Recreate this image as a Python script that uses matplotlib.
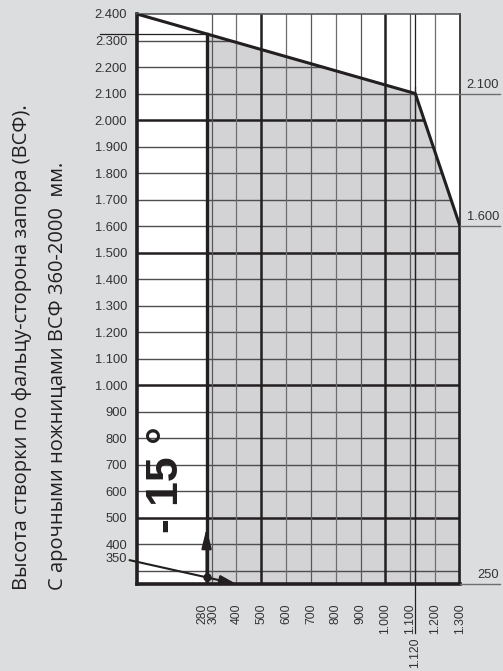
import numpy as np
import matplotlib
matplotlib.use('Agg')
import matplotlib.pyplot as plt
from matplotlib.patches import Polygon
from matplotlib.transforms import blended_transform_factory, ScaledTranslation

# chart data
y_ticks = [2400, 2300, 2200, 2100, 2000, 1900, 1800, 1700, 1600, 1500, 1400, 1300,
           1200, 1100, 1000, 900, 800, 700, 600, 500, 400, 350]
x_ticks = [280, 300, 400, 500, 600, 700, 800, 900, 1000, 1100, 1200, 1300]
h_grid = [2300, 2200, 2100, 2000, 1900, 1800, 1700, 1600, 1500, 1400, 1300, 1200,
          1100, 1000, 900, 800, 700, 600, 500, 400, 300]
v_grid = [300, 400, 500, 600, 700, 800, 900, 1000, 1100, 1120, 1200]
bold_h = [2000, 1500, 1000, 500]
bold_v = [500, 1000]
limit_x = [0, 1120, 1300]
limit_y = [2400, 2100, 1600]
min_width = 280
min_height = 250
corner_width = 1120
side_labels = [2100, 1600, 250]
swing_x = [-30, 400]
swing_y = [340, 250]
arrow_top = 460

BG = '#dcdddf'
SHADE = '#d3d3d5'
DARK = '#231f20'
TXT = '#333333'
FONT = 'Liberation Sans'
FS = 8.8

def fmt(v):
    return f'{v:,}'.replace(',', '.')

fig = plt.figure(figsize=(5.03, 6.71), dpi=100, facecolor=BG)
ax = fig.add_axes([137 / 503, 1 - 584 / 671, 323 / 503, 570 / 671])
ax.set_facecolor('white')
ax.set_xlim(0, 1300)
ax.set_ylim(min_height, 2400)

# area under the limit curve (clip for the horizontal grid)
top_y = np.interp(min_width, limit_x, limit_y)
area = Polygon(list(zip(limit_x, limit_y)) + [(1300, min_height), (0, min_height)],
               closed=True, transform=ax.transData, facecolor='none', edgecolor='none')
ax.add_patch(area)

shade = Polygon([(min_width, min_height), (min_width, top_y)] +
                list(zip(limit_x[1:], limit_y[1:])) + [(1300, min_height)],
                closed=True, facecolor=SHADE, edgecolor='none', zorder=1)
ax.add_patch(shade)

for y in h_grid:
    bold = y in bold_h
    ln = ax.axhline(y, color=DARK if bold else '#4d4d4f', lw=1.8 if bold else 1.0, zorder=2)
    ln.set_clip_path(area)
for x in v_grid:
    bold = x in bold_v
    col = DARK if bold or x == corner_width else ('#58585a' if x % 200 else '#6d6d6f')
    ax.axvline(x, color=col, lw=1.8 if bold else 0.9, zorder=2)

# outline of allowed region
ax.plot(limit_x, limit_y, color=DARK, lw=2.2, zorder=4, solid_capstyle='butt')
ax.plot([min_width, min_width], [min_height, top_y], color=DARK, lw=2.4, zorder=4)
ax.plot([1300, 1300], [min_height, limit_y[-1]], color=DARK, lw=2.6, zorder=4)

for side in ['left', 'bottom']:
    ax.spines[side].set_linewidth(2.6)
    ax.spines[side].set_color(DARK)
ax.spines['top'].set_linewidth(1.2)
ax.spines['top'].set_color('#5a5a5c')
ax.spines['right'].set_linewidth(1.2)
ax.spines['right'].set_color(DARK)

# side extension lines and labels
tr_r = blended_transform_factory(ax.transAxes, ax.transData)
for v in side_labels:
    x0 = 1.0
    if v == limit_y[1]:
        x0 = corner_width / 1300
    ax.plot([x0, 1.124], [v, v], transform=tr_r, color='#6d6d6f', lw=1.0,
            clip_on=False, zorder=3)
    ax.text(1.121, v + 10, fmt(v), transform=tr_r, ha='right', va='bottom',
            fontsize=FS + 0.5, family=FONT, color=TXT)

# line at top of 280 column going out to the left
ax.plot([-0.115, min_width / 1300], [top_y, top_y], transform=tr_r, color=DARK,
        lw=0.9, clip_on=False, zorder=3)

# 1120 marker line
tr_b = blended_transform_factory(ax.transData, ax.transAxes)
y_hi = (limit_y[1] + 25 - min_height) / (2400 - min_height)
ax.plot([corner_width, corner_width], [-0.086, y_hi], transform=tr_b, color=DARK,
        lw=0.9, clip_on=False, zorder=3)
ax.text(corner_width, -0.093, fmt(corner_width), transform=tr_b, rotation=90,
        ha='center', va='top', fontsize=FS, family=FONT, color=TXT)

# swing arrows
ax.annotate('', xy=(swing_x[1], swing_y[1]), xytext=(swing_x[0], swing_y[0]),
            arrowprops=dict(arrowstyle='-|>,head_length=1.0,head_width=0.3',
                            color=DARK, lw=1.5, shrinkA=0, shrinkB=0),
            annotation_clip=False, zorder=6)
dot_y = swing_y[0] + (swing_y[1] - swing_y[0]) * (min_width - swing_x[0]) / (swing_x[1] - swing_x[0])
ax.plot([min_width], [dot_y], 'o', color=DARK, ms=5, zorder=7)
ax.annotate('', xy=(min_width, arrow_top), xytext=(min_width, min_height),
            arrowprops=dict(arrowstyle='-|>,head_length=1.2,head_width=0.3',
                            color=DARK, lw=1.5, shrinkA=0, shrinkB=0), zorder=6)

# -15 degree marker
fig.text(167 / 503, 1 - 480 / 671, '- 15 °', rotation=90, ha='center', va='center',
         fontsize=32, fontweight='bold', family=FONT, color=DARK)

# ticks
ax.set_yticks(y_ticks)
ax.set_yticklabels([fmt(v) for v in y_ticks], fontsize=FS + 0.5, family=FONT, color=TXT)
ax.set_xticks(x_ticks)
ax.set_xticklabels([fmt(v) for v in x_ticks], rotation=90, fontsize=FS, family=FONT,
                   color=TXT)
ax.tick_params(length=0, pad=7)
ax.tick_params(axis='x', pad=14)
labs = ax.get_xticklabels()
labs[0].set_transform(labs[0].get_transform() + ScaledTranslation(-4 / 100, 0, fig.dpi_scale_trans))
labs[1].set_transform(labs[1].get_transform() + ScaledTranslation(2 / 100, 0, fig.dpi_scale_trans))

# axis title (two lines)
fig.text(22 / 503, 1 - 590 / 671, 'Высота створки по фальцу-сторона запора (ВСФ).',
         rotation=90, ha='center', va='bottom', fontsize=14.5, family='Open Sans',
         color=DARK)
fig.text(58 / 503, 1 - 590 / 671, 'С арочными ножницами ВСФ 360-2000  мм.',
         rotation=90, ha='center', va='bottom', fontsize=14.5, family='Open Sans',
         color=DARK)

fig.savefig('out.png', dpi=100, facecolor=BG)
